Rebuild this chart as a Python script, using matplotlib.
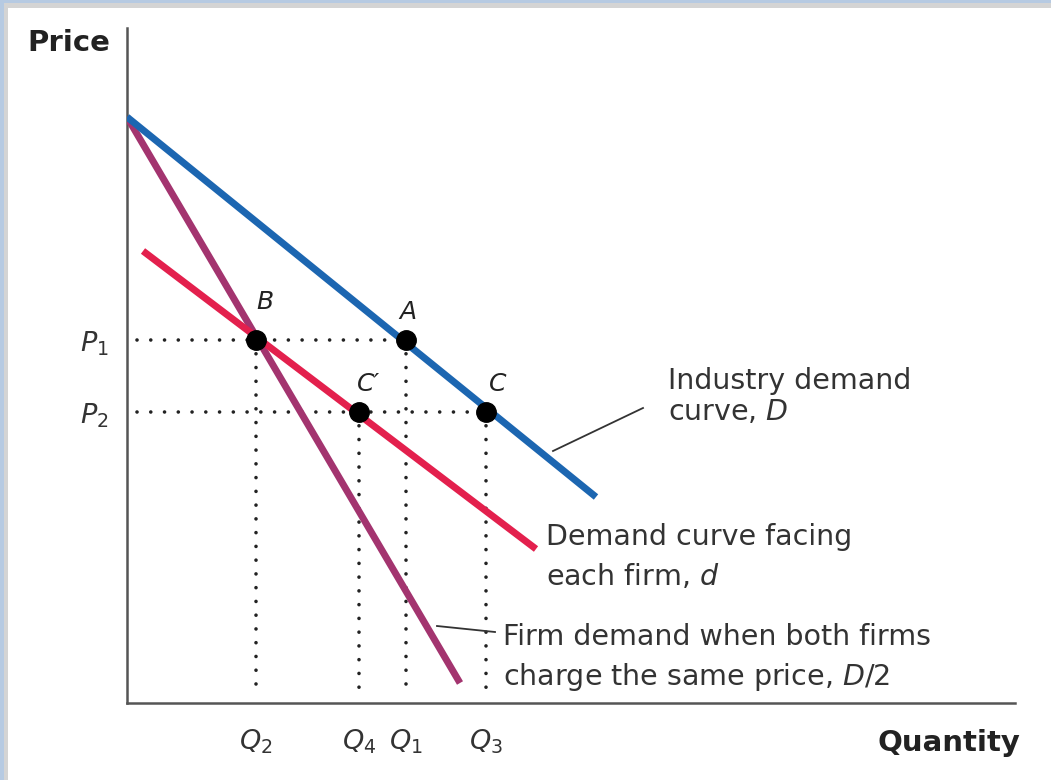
import matplotlib
matplotlib.use("Agg")
import matplotlib.pyplot as plt
from matplotlib.patches import Rectangle

plt.rcParams['font.family'] = ['DejaVu Sans']
plt.rcParams['mathtext.fontset'] = 'custom'
plt.rcParams['mathtext.rm'] = 'DejaVu Sans'
plt.rcParams['mathtext.it'] = 'DejaVu Sans:italic'

# ---- data (arbitrary quantity / price units) ----
industry_q = [0, 469]
industry_p = [586, 206]
firm_q = [16, 409]
firm_p = [452, 154]
half_q = [0, 333]
half_p = [586, 20]

point_names = ['B', 'A', 'C′', 'C']
point_q = [129, 279, 232, 359]
point_p = [363, 363, 291, 291]

price_levels = [363, 291]
price_labels = [r'$P_1$', r'$P_2$']
qty_levels = [129, 232, 279, 359]
qty_labels = [r'$Q_2$', r'$Q_4$', r'$Q_1$', r'$Q_3$']

W, H = 1051, 780
fig = plt.figure(figsize=(W / 100, H / 100), dpi=100)
fig.patch.set_facecolor('#b6cae2')
fig.patches.append(Rectangle((4 / W, 0), 1, 1 - 3 / H, transform=fig.transFigure,
                             facecolor='#d4d4d4', edgecolor='none', zorder=-20))
fig.patches.append(Rectangle((8 / W, 0), 1, 1 - 8 / H, transform=fig.transFigure,
                             facecolor='white', edgecolor='none', zorder=-10))

ax = fig.add_axes([127 / W, 77 / H, 888 / W, 675 / H])
ax.set_facecolor('none')
ax.set_xlim(0, 888)
ax.set_ylim(0, 675)
for s in ['top', 'right']:
    ax.spines[s].set_visible(False)
for s in ['left', 'bottom']:
    ax.spines[s].set_color('#555555')
    ax.spines[s].set_linewidth(1.8)

blue = '#1c66b1'
red = '#e3204d'
purple = '#a3346f'

dot_ls = (0, (0.01, 3.8))
# dotted guides
ax.plot([10, point_q[1]], [price_levels[0]] * 2, color='#222222', lw=2.6, ls=dot_ls,
        dash_capstyle='round', zorder=2)
ax.plot([10, point_q[3]], [price_levels[1]] * 2, color='#222222', lw=2.6, ls=dot_ls,
        dash_capstyle='round', zorder=2)
for q, p in zip(point_q, point_p):
    ax.plot([q, q], [p, 12], color='#222222', lw=2.6, ls=dot_ls,
            dash_capstyle='round', zorder=2)

ax.plot(half_q, half_p, color=purple, lw=5, solid_capstyle='butt', zorder=3)
ax.plot(industry_q, industry_p, color=blue, lw=5, solid_capstyle='butt', zorder=4)
ax.plot(firm_q, firm_p, color=red, lw=5, solid_capstyle='butt', zorder=4)

ax.plot(point_q, point_p, 'o', color='black', ms=14, zorder=6)

lab_off = {'B': (9, 38), 'A': (2, 28), 'C′': (10, 28), 'C': (12, 28)}
for n, q, p in zip(point_names, point_q, point_p):
    dx, dy = lab_off[n]
    ax.text(q + dx, p + dy, n, fontsize=18, style='italic', ha='center', va='center',
            color='#222222')

ax.set_yticks(price_levels, price_labels, fontsize=19.5, color='#333333')
ax.set_xticks(qty_levels, qty_labels, fontsize=19.5, color='#333333')
ax.tick_params(axis='both', length=0)
ax.tick_params(axis='y', pad=13)
ax.tick_params(axis='x', pad=18)

txtc = '#333333'
fs = 20.5
ax.text(541, 322, 'Industry demand', fontsize=fs, color=txtc, va='center')
ax.text(541, 291, r'curve, $D$', fontsize=fs, color=txtc, va='center')
ax.plot([426, 516], [252, 295], color='#333333', lw=1.3)

ax.text(419, 166, 'Demand curve facing', fontsize=fs, color=txtc, va='center')
ax.text(419, 127, r'each firm, $d$', fontsize=fs, color=txtc, va='center')

ax.text(376, 66, 'Firm demand when both firms', fontsize=fs, color=txtc, va='center')
ax.text(376, 26, r'charge the same price, $\mathit{D/2}$', fontsize=fs, color=txtc,
        va='center')
ax.plot([310, 368], [77, 71], color='#333333', lw=1.3)

fig.text(27 / W, 1 - 43 / H, 'Price', fontsize=21, fontweight='bold', color='#222222',
         ha='left', va='center')
fig.text(1020 / W, 1 - 743 / H, 'Quantity', fontsize=21, fontweight='bold', color='#222222',
         ha='right', va='center')

fig.savefig('out.png', dpi=100)
